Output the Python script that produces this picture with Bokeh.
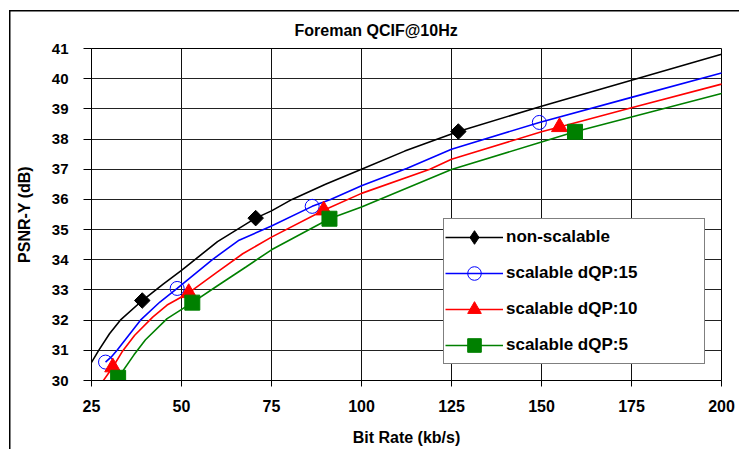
import numpy as np
from bokeh.plotting import figure
from bokeh.models import Range1d, FixedTicker, Legend, LegendItem
from bokeh.embed import file_html
from bokeh.resources import INLINE

# ---------------- data ----------------
title_text = "Foreman QCIF@10Hz"
x_label_text = "Bit Rate (kb/s)"
y_label_text = "PSNR-Y (dB)"
x_ticks = [25, 50, 75, 100, 125, 150, 175, 200]
y_ticks = [30, 31, 32, 33, 34, 35, 36, 37, 38, 39, 40, 41]

series_names = ["non-scalable", "scalable dQP:15", "scalable dQP:10", "scalable dQP:5"]

# curves (fitted lines)
ns_curve_x = [22.9, 25, 27, 30, 33, 39.1, 45, 50, 60, 70.6, 75, 80.7, 90, 100, 112, 126.9, 150, 175, 200, 202.8]
ns_curve_y = [30.2, 30.6, 31.0, 31.55, 32.0, 32.65, 33.2, 33.65, 34.6, 35.38, 35.62, 36.0, 36.5, 37.0, 37.6, 38.25, 39.09, 39.95, 40.81, 40.87]

q15_curve_x = [28.9, 30.5, 32.1, 38.6, 44, 48.8, 50, 58.5, 66, 75, 86.3, 91.4, 100, 112.7, 125, 149.4, 175, 200, 202.8]
q15_curve_y = [30.61, 30.78, 31.0, 32.0, 32.6, 33.05, 33.17, 34.0, 34.65, 35.12, 35.77, 36.0, 36.45, 37.03, 37.66, 38.55, 39.38, 40.19, 40.25]

q10_curve_x = [27.0, 30.9, 33.5, 37, 42, 46, 52.0, 60, 67, 75, 89.5, 100, 119, 125, 150, 155, 175, 200, 202.8]
q10_curve_y = [29.78, 30.44, 30.95, 31.5, 32.1, 32.5, 32.9, 33.6, 34.2, 34.75, 35.64, 36.2, 37.0, 37.33, 38.24, 38.4, 39.04, 39.82, 39.87]

q5_curve_x = [30.3, 32.4, 36.8, 40, 46, 53.0, 60, 68, 75, 91.1, 100, 105, 125, 150, 159.3, 175, 200, 202.8]
q5_curve_y = [29.78, 30.09, 30.85, 31.35, 32.05, 32.58, 33.14, 33.77, 34.33, 35.36, 35.75, 36.0, 36.99, 37.9, 38.24, 38.73, 39.51, 39.56]

# measured points (markers)
ns_pts_x = [39.1, 70.6, 126.9]
ns_pts_y = [32.65, 35.38, 38.25]
q15_pts_x = [28.9, 48.8, 86.3, 149.4]
q15_pts_y = [30.61, 33.05, 35.77, 38.55]
q10_pts_x = [30.9, 52.0, 89.5, 155.0]
q10_pts_y = [30.44, 32.9, 35.64, 38.40]
q5_pts_x = [32.4, 53.0, 91.1, 159.3]
q5_pts_y = [30.09, 32.58, 35.36, 38.24]

# ---------------- figure ----------------
FONT = "Liberation Sans"

p = figure(width=739, height=449, x_range=Range1d(25, 200), y_range=Range1d(30, 41),
           output_backend="svg", toolbar_location=None,
           min_border_left=91, min_border_right=18, min_border_top=48, min_border_bottom=69)
p.background_fill_color = "white"
p.border_fill_alpha = 0
p.outline_line_color = "black"
p.outline_line_width = 1
p.outline_line_alpha = 1
# outer chart-area border (top and left edges visible, the rest is cropped)
p.styles = {
    "background": ("linear-gradient(#000,#000) 9px 10px / 1.5px 100% no-repeat, "
                   "linear-gradient(#000,#000) 9px 10px / 100% 1.5px no-repeat, #ffffff"),
}

# title
p.title.text = title_text
p.title.align = "left"
p.title.offset = 203
p.title.standoff = 20
p.title.text_font = FONT
p.title.text_font_style = "bold"
p.title.text_font_size = "16px"
p.title.text_color = "black"

for ax, ticks, tick_out, standoff, fs in ((p.xaxis, x_ticks, 6, 13, "16px"),
                                           (p.yaxis, y_ticks, 8, 15, "15px")):
    ax.ticker = FixedTicker(ticks=ticks)
    ax.minor_tick_line_color = None
    ax.major_tick_in = 0
    ax.major_tick_out = tick_out
    ax.major_tick_line_color = "black"
    ax.axis_line_color = "black"
    ax.major_label_standoff = standoff
    ax.major_label_text_font = FONT
    ax.major_label_text_font_style = "bold"
    ax.major_label_text_font_size = fs
    ax.major_label_text_color = "black"
    ax.axis_label_text_font = FONT
    ax.axis_label_text_font_style = "bold"
    ax.axis_label_text_font_size = "16px"
    ax.axis_label_text_color = "black"

p.xaxis.axis_label = x_label_text
p.xaxis.axis_label_standoff = 14
p.yaxis.axis_label = y_label_text
p.yaxis.axis_label_standoff = 16

p.xgrid.ticker = FixedTicker(ticks=x_ticks)
p.ygrid.ticker = FixedTicker(ticks=y_ticks)
p.xgrid.grid_line_color = "#111111"
p.ygrid.grid_line_color = "#222222"
p.xgrid.grid_line_width = 1
p.ygrid.grid_line_width = 1

colors = ["black", "#0000FF", "#FF0000", "#008000"]
curves = [(ns_curve_x, ns_curve_y), (q15_curve_x, q15_curve_y),
          (q10_curve_x, q10_curve_y), (q5_curve_x, q5_curve_y)]
pts = [(ns_pts_x, ns_pts_y), (q15_pts_x, q15_pts_y),
       (q10_pts_x, q10_pts_y), (q5_pts_x, q5_pts_y)]

items = []
for i, name in enumerate(series_names):
    cx, cy = curves[i]
    lr = p.line(cx, cy, line_color=colors[i], line_width=1.6)
    px, py = pts[i]
    if i == 0:
        mr = p.scatter(px, py, marker="square", angle=np.pi / 4, size=11,
                       fill_color="black", line_color="black")
        # hidden diamond renderer, used only for the legend swatch
        lg = p.scatter(px, py, marker="diamond", size=14, visible=False,
                       fill_color="black", line_color="black")
        items.append(LegendItem(label=name, renderers=[lr, lg]))
        continue
    elif i == 1:
        mr = p.scatter(px, py, marker="circle", size=14, fill_alpha=0,
                       line_color=colors[i], line_width=1)
    elif i == 2:
        mr = p.scatter(px, py, marker="triangle", size=16,
                       fill_color=colors[i], line_color=colors[i])
    else:
        mr = p.scatter(px, py, marker="square", size=15,
                       fill_color=colors[i], line_color=colors[i])
    items.append(LegendItem(label=name, renderers=[lr, mr]))

legend = Legend(items=items, location=(352, 16), margin=0,
                glyph_width=58, glyph_height=34, label_height=34,
                spacing=2, padding=1, label_standoff=3, label_width=197,
                label_text_font=FONT, label_text_font_style="bold",
                label_text_font_size="17px", label_text_color="black",
                border_line_color="black", border_line_width=1,
                background_fill_color="white", background_fill_alpha=1,
                click_policy="none")
p.add_layout(legend)

open("out.html", "w").write(file_html(p, INLINE))
